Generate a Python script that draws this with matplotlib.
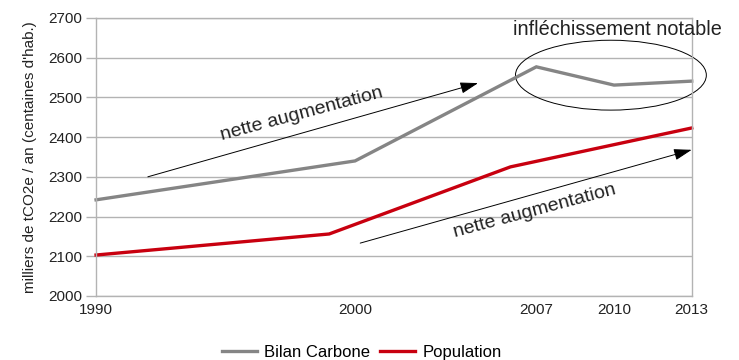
import matplotlib
matplotlib.use("Agg")
import matplotlib.pyplot as plt
from matplotlib.patches import Ellipse

plt.rcParams['font.family'] = ['Liberation Sans', 'DejaVu Sans']

# Emissions (milliers de tCO2e / an)
carbone_years = [1990, 2000, 2007, 2010, 2013]
carbone_values = [2242, 2340, 2577, 2531, 2541]

# Population (centaines d'habitants), census years
pop_years = [1990, 1999, 2006, 2013]
pop_values = [2103, 2156, 2325, 2423]

xticks = [1990, 2000, 2007, 2010, 2013]
yticks = list(range(2000, 2701, 100))

fig = plt.figure(figsize=(7.39, 3.60), dpi=100)
ax = fig.add_axes([0.130, 0.178, 0.806, 0.772])

grid_color = '#b3b3b3'
ax.set_xlim(1990, 2013)
ax.set_ylim(2000, 2700)
ax.set_yticks(yticks)
ax.set_xticks(xticks)
ax.yaxis.grid(True, color=grid_color, linewidth=1.0)
ax.set_axisbelow(True)
for side in ['left', 'right', 'bottom', 'top']:
    ax.spines[side].set_color(grid_color)
    ax.spines[side].set_linewidth(1.0)
ax.tick_params(axis='y', length=7, width=1.0, color=grid_color, pad=3,
               labelsize=11, labelcolor='#222222')
ax.tick_params(axis='x', length=0, pad=5, labelsize=11, labelcolor='#222222')

ax.set_ylabel("milliers de tCO2e / an (centaines d'hab.)", fontsize=11,
              color='#222222', labelpad=8)

l1, = ax.plot(carbone_years, carbone_values, color='#858585', linewidth=2.4,
              solid_joinstyle='miter', label='Bilan Carbone', clip_on=False)
l2, = ax.plot(pop_years, pop_values, color='#c8000f', linewidth=2.4,
              solid_joinstyle='miter', label='Population', clip_on=False)

# Trend arrows and comments
arrow_kw = dict(arrowstyle='-|>,head_length=1.1,head_width=0.35',
                color='black', linewidth=0.7, shrinkA=0, shrinkB=0)
ax.annotate('', xy=(2004.75, 2536), xytext=(1992.0, 2300), arrowprops=arrow_kw)
ax.annotate('', xy=(2013.0, 2368), xytext=(2000.2, 2133), arrowprops=arrow_kw)

ax.text(1997.95, 2459, 'nette augmentation', fontsize=14, rotation=15,
        ha='center', va='center', color='#222222')
ax.text(2006.95, 2214, 'nette augmentation', fontsize=14, rotation=15,
        ha='center', va='center', color='#222222')

ax.add_patch(Ellipse((2009.88, 2556), width=7.37, height=176, fill=False,
                     edgecolor='black', linewidth=0.7, clip_on=False))
ax.text(2010.15, 2672, 'infléchissement notable', fontsize=14.3,
        ha='center', va='center', color='#222222', clip_on=False)

fig.legend(handles=[l1, l2], loc='center', bbox_to_anchor=(0.49, 0.02),
           ncol=2, frameon=False, fontsize=12, handlelength=2.1,
           handletextpad=0.45, columnspacing=0.6, borderaxespad=0)

fig.savefig('out.png', dpi=100)
